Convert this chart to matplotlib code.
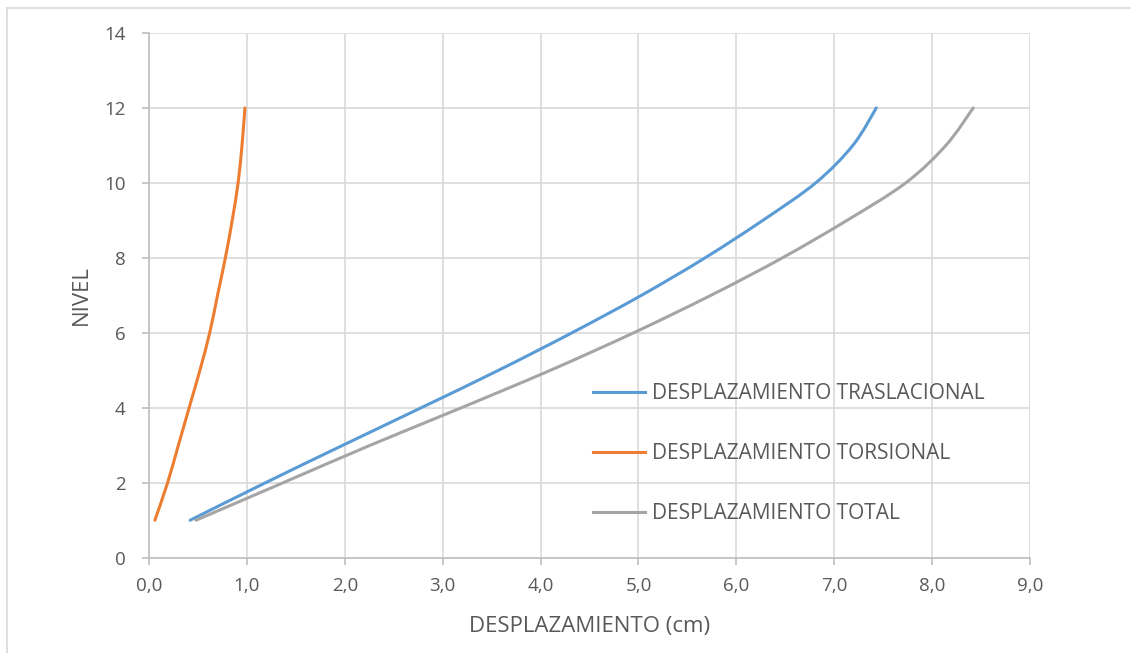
import matplotlib
matplotlib.use("Agg")
import matplotlib.pyplot as plt
from matplotlib.lines import Line2D
from matplotlib.path import Path
from matplotlib.patches import PathPatch
from matplotlib.ticker import FuncFormatter, MultipleLocator

plt.rcParams["font.family"] = ["Open Sans", "DejaVu Sans"]

# ---------- datos ----------
niveles = [1, 2, 3, 4, 5, 6, 7, 8, 9, 10, 11, 12]
traslacional = [0.42, 1.19, 1.98, 2.78, 3.57, 4.32, 5.03, 5.68, 6.27, 6.81, 7.19, 7.43]
torsional = [0.06, 0.19, 0.30, 0.41, 0.52, 0.62, 0.70, 0.78, 0.85, 0.91, 0.95, 0.98]
total = [0.48, 1.37, 2.26, 3.19, 4.10, 4.95, 5.74, 6.47, 7.13, 7.73, 8.14, 8.42]

series = [
    ("DESPLAZAMIENTO TRASLACIONAL", traslacional, "#5B9BD5"),
    ("DESPLAZAMIENTO TORSIONAL", torsional, "#ED7D31"),
    ("DESPLAZAMIENTO TOTAL", total, "#A5A5A5"),
]

W, H = 1131, 653
TXT = "#595959"


def linea_suavizada(xs, ys):
    """Curva suavizada tipo Excel (Bezier por segmentos, Catmull-Rom)."""
    pts = list(zip(xs, ys))
    verts = [pts[0]]
    codes = [Path.MOVETO]
    n = len(pts)
    for i in range(n - 1):
        p0 = pts[i - 1] if i > 0 else pts[i]
        p1 = pts[i]
        p2 = pts[i + 1]
        p3 = pts[i + 2] if i + 2 < n else pts[i + 1]
        c1 = (p1[0] + (p2[0] - p0[0]) / 6, p1[1] + (p2[1] - p0[1]) / 6)
        c2 = (p2[0] - (p3[0] - p1[0]) / 6, p2[1] - (p3[1] - p1[1]) / 6)
        verts += [c1, c2, p2]
        codes += [Path.CURVE4] * 3
    return Path(verts, codes)


fig = plt.figure(figsize=(W / 100, H / 100), dpi=100)
ax = fig.add_axes([149 / W, 1 - 557.7 / H, (1030 - 149) / W, (557.7 - 33) / H])

handles = []
for nombre, valores, color in series:
    ax.add_patch(PathPatch(linea_suavizada(valores, niveles), fill=False,
                           edgecolor=color, lw=2.2, capstyle="round", joinstyle="round"))
    handles.append(Line2D([], [], color=color, lw=2.2, label=nombre))

ax.set_xlim(0, 9)
ax.set_ylim(0, 14)
ax.xaxis.set_major_locator(MultipleLocator(1))
ax.yaxis.set_major_locator(MultipleLocator(2))
ax.xaxis.set_major_formatter(FuncFormatter(lambda v, p: f"{v:.1f}".replace(".", ",")))
ax.yaxis.set_major_formatter(FuncFormatter(lambda v, p: f"{v:.0f}"))

ax.grid(True, color="#D9D9D9", lw=1.2)
ax.set_axisbelow(True)
for s in ["top", "right"]:
    ax.spines[s].set_visible(False)
for s in ["left", "bottom"]:
    ax.spines[s].set_color("#BFBFBF")
    ax.spines[s].set_linewidth(1.2)
ax.tick_params(colors="#BFBFBF", labelcolor=TXT, labelsize=13.5, length=5, width=1.2)
ax.tick_params(axis="x", pad=9)
ax.tick_params(axis="y", pad=12)

ax.set_xlabel("DESPLAZAMIENTO (cm)", fontsize=16, color=TXT, labelpad=15)
ax.set_ylabel("NIVEL", fontsize=16, color=TXT, labelpad=9)

ax.legend(handles=handles, loc="upper left", bbox_to_anchor=(0.504, 0.332),
          frameon=False, fontsize=15, labelcolor=TXT, handlelength=2.5,
          handletextpad=0.33, labelspacing=1.86, borderpad=0, borderaxespad=0)

# marco exterior del gráfico
fig.add_artist(Line2D([7 / W, 1], [1 - 8 / H, 1 - 8 / H], color="#D9D9D9", lw=1.2))
fig.add_artist(Line2D([7 / W, 7 / W], [0, 1 - 8 / H], color="#D9D9D9", lw=1.2))

fig.savefig("out.png", dpi=100)
